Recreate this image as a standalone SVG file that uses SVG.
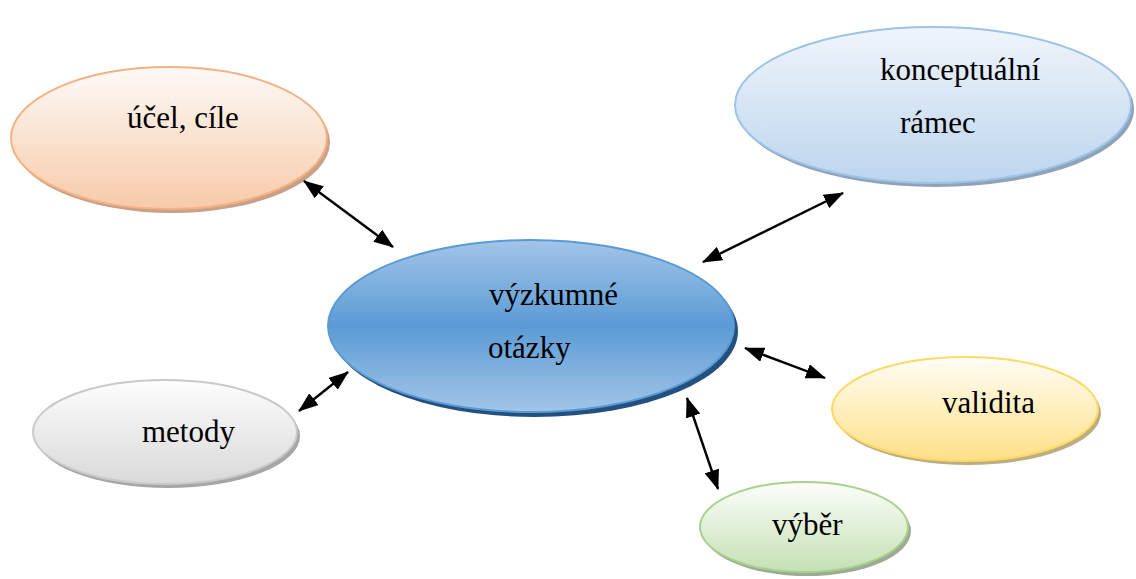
<svg xmlns="http://www.w3.org/2000/svg" width="1136" height="579" viewBox="0 0 1136 579">
<style>
.t{font-family:'Liberation Serif','Times New Roman',serif;font-size:31px;fill:#000}
.c{stroke:#000;stroke-width:2.4;fill:none;marker-start:url(#ah);marker-end:url(#ah)}
</style>
<defs>
<marker id="ah" viewBox="0 0 20 15" refX="19" refY="7.5" markerWidth="20" markerHeight="15" markerUnits="userSpaceOnUse" orient="auto-start-reverse"><path d="M0,0L20,7.5L0,15z" fill="#000"/></marker>
<linearGradient id="gO" x1="0" y1="0" x2="0" y2="1"><stop offset="0" stop-color="#fefaf7"/><stop offset="1" stop-color="#f7caa9"/></linearGradient>
<linearGradient id="gB" x1="0" y1="0" x2="0" y2="1"><stop offset="0" stop-color="#f0f5fb"/><stop offset="1" stop-color="#bcd5ee"/></linearGradient>
<linearGradient id="gC" x1="0" y1="0" x2="0" y2="1"><stop offset="0" stop-color="#a3c5e8"/><stop offset="0.5" stop-color="#5b9bd5"/><stop offset="1" stop-color="#a3c5e8"/></linearGradient>
<linearGradient id="gG" x1="0" y1="0" x2="0" y2="1"><stop offset="0" stop-color="#fdfdfd"/><stop offset="1" stop-color="#d9d9d9"/></linearGradient>
<linearGradient id="gY" x1="0" y1="0" x2="0" y2="1"><stop offset="0" stop-color="#fffdf6"/><stop offset="1" stop-color="#ffe087"/></linearGradient>
<linearGradient id="gV" x1="0" y1="0" x2="0" y2="1"><stop offset="0" stop-color="#fcfefb"/><stop offset="1" stop-color="#c5e0b3"/></linearGradient>
</defs>
<g id="ucel">
<ellipse cx="172" cy="142" rx="158" ry="71" fill="#c9a088"/>
<ellipse cx="169" cy="138" rx="158" ry="71" fill="url(#gO)" stroke="#f4b183" stroke-width="2"/>
<text class="t" x="127" y="128">účel, cíle</text>
</g>
<g id="ramec">
<ellipse cx="936" cy="109" rx="198" ry="78" fill="#8ea3bb"/>
<ellipse cx="933" cy="105" rx="198" ry="78" fill="url(#gB)" stroke="#9dc3e6" stroke-width="2"/>
<text class="t" x="880" y="80">konceptuální</text>
<text class="t" x="900" y="133">rámec</text>
</g>
<g id="otazky">
<ellipse cx="535" cy="331" rx="203" ry="86" fill="#24507f"/>
<ellipse cx="531" cy="326" rx="203" ry="86" fill="url(#gC)" stroke="#5b9bd5" stroke-width="2"/>
<text class="t" x="489" y="305">výzkumné</text>
<text class="t" x="488" y="358">otázky</text>
</g>
<g id="metody">
<ellipse cx="168" cy="436" rx="132" ry="52" fill="#a6a6a6"/>
<ellipse cx="165" cy="432" rx="132" ry="52" fill="url(#gG)" stroke="#c9c9c9" stroke-width="2"/>
<text class="t" x="142" y="442">metody</text>
</g>
<g id="validita">
<ellipse cx="968" cy="413" rx="133" ry="52" fill="#bcad82"/>
<ellipse cx="965" cy="409" rx="133" ry="52" fill="url(#gY)" stroke="#ffd966" stroke-width="2"/>
<text class="t" x="942" y="413">validita</text>
</g>
<g id="vyber">
<ellipse cx="807" cy="531" rx="104" ry="45" fill="#9cab93"/>
<ellipse cx="804" cy="527" rx="104" ry="45" fill="url(#gV)" stroke="#a9d18e" stroke-width="2"/>
<text class="t" x="772" y="535">výběr</text>
</g>
<g id="connectors">
<line class="c" x1="304" y1="181" x2="393" y2="247"/>
<line class="c" x1="843" y1="193" x2="703" y2="262"/>
<line class="c" x1="745" y1="348" x2="825" y2="378"/>
<line class="c" x1="687" y1="398" x2="718" y2="489"/>
<line class="c" x1="299" y1="411" x2="348" y2="372"/>
</g>
</svg>
